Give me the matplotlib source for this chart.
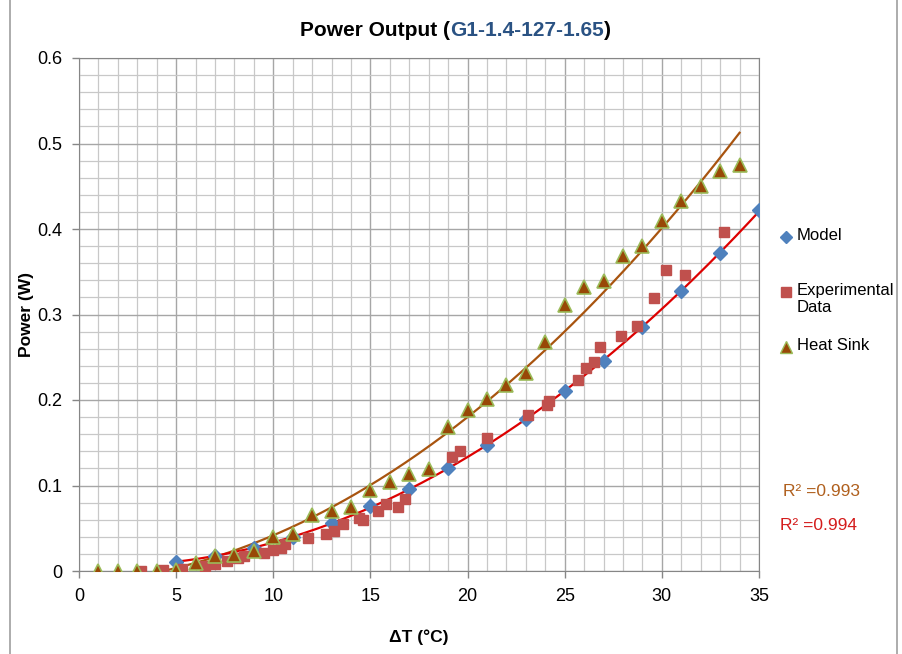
import numpy as np
import matplotlib.pyplot as plt
from matplotlib.lines import Line2D
from matplotlib.patches import FancyBboxPatch
from matplotlib.ticker import MultipleLocator

plt.rcParams['font.family'] = ['Liberation Sans', 'DejaVu Sans']

# Model (blue diamonds)
model_x = [5, 7, 9, 11, 13, 15, 17, 19, 21, 23, 25, 27, 29, 31, 33, 35]
model_y = [0.010, 0.018, 0.027, 0.040, 0.056, 0.076, 0.096, 0.120, 0.147, 0.178,
           0.210, 0.246, 0.285, 0.328, 0.372, 0.422]

# Experimental data (red squares)
exp_x = [3.2, 4.3, 5.3, 6.5, 7.0, 7.6, 8.2, 8.5, 9.5, 10.0, 10.4, 10.6, 11.8, 12.7,
         13.1, 13.6, 14.4, 14.6, 15.4, 15.8, 16.4, 16.8, 19.2, 19.6, 21.0, 23.1,
         24.1, 24.2, 25.7, 26.1, 26.5, 26.8, 27.9, 28.7, 29.6, 30.2, 31.2, 33.2]
exp_y = [0.000, 0.001, 0.002, 0.006, 0.008, 0.012, 0.015, 0.018, 0.021, 0.024,
         0.027, 0.031, 0.039, 0.043, 0.047, 0.055, 0.062, 0.060, 0.070, 0.078,
         0.075, 0.084, 0.133, 0.140, 0.155, 0.182, 0.194, 0.199, 0.223, 0.237,
         0.245, 0.262, 0.275, 0.286, 0.319, 0.352, 0.346, 0.397]

# Heat sink (triangles)
hs_x = list(range(1, 35))
hs_y = [0.000, 0.000, 0.000, 0.000, 0.001, 0.009, 0.017, 0.019, 0.023, 0.040,
        0.043, 0.065, 0.070, 0.075, 0.095, 0.104, 0.114, 0.119, 0.169, 0.188,
        0.201, 0.218, 0.231, 0.268, 0.311, 0.332, 0.339, 0.368, 0.380, 0.409,
        0.433, 0.450, 0.468, 0.475]

legend_labels = ['Model', 'Experimental\nData', 'Heat Sink']
r2_labels = ['R² =0.993', 'R² =0.994']

W, H = 903, 654
fig = plt.figure(figsize=(W / 100, H / 100), dpi=100)
ax = fig.add_axes([79 / W, 83 / H, 680 / W, 513 / H])

def fx(px):
    return px / W

def fy(py):
    return 1 - py / H

# Rahmen um das Diagramm
fig.add_artist(FancyBboxPatch((fx(10), -0.05), fx(887), 1.1,
                              boxstyle='round,pad=0,rounding_size=0.01',
                              transform=fig.transFigure, fill=False,
                              edgecolor='#8c8c8c', linewidth=1.0))

# Trendlinien (Polynom 2. Ordnung)
c_hs = np.polyfit(hs_x, hs_y, 2)
xs = np.linspace(min(hs_x), max(hs_x), 300)
ax.plot(xs, np.polyval(c_hs, xs), color='#A8540F', lw=1.6, zorder=3)

c_m = np.polyfit(model_x, model_y, 2)
xs2 = np.linspace(min(model_x), max(model_x), 300)
ax.plot(xs2, np.polyval(c_m, xs2), color='#DD0000', lw=1.6, zorder=3)

ax.plot(model_x, model_y, 'D', color='#4F81BD', ms=7, mec='#4F81BD', zorder=4)
ax.plot(exp_x, exp_y, 's', color='#C0504D', ms=7.5, mec='#C0504D', zorder=5)
ax.plot(hs_x, hs_y, '^', color='#984807', ms=9.5, mec='#9BBB59', mew=1.2, zorder=6)

ax.set_xlim(0, 35)
ax.set_ylim(0, 0.6)
ax.xaxis.set_major_locator(MultipleLocator(5))
ax.xaxis.set_minor_locator(MultipleLocator(1))
ax.yaxis.set_minor_locator(MultipleLocator(0.02))
ax.set_yticks(np.arange(0, 0.61, 0.1))
ax.set_yticklabels(['0', '0.1', '0.2', '0.3', '0.4', '0.5', '0.6'])
ax.grid(which='major', color='#A6A6A6', lw=1.0)
ax.grid(which='minor', color='#C8C8C8', lw=0.9)
ax.set_axisbelow(True)
ax.tick_params(which='major', labelsize=13, color='#868686', length=5, width=1)
ax.tick_params(which='minor', length=0)
ax.tick_params(axis='x', pad=7)
ax.tick_params(axis='y', pad=7)
for s in ax.spines.values():
    s.set_color('#868686')

ax.set_ylabel('Power (W)', fontsize=12.5, fontweight='bold', labelpad=2)
ax.set_xlabel('ΔT (°C)', fontsize=12.5, fontweight='bold', labelpad=18)

# Titel mit blauem Teil
ty = fy(31)
t1 = fig.text(fx(300), ty, 'Power Output (', fontsize=15,
              fontweight='bold', va='center', ha='left')
fig.canvas.draw()
bb = t1.get_window_extent()
t2 = fig.text(bb.x1 / W, ty, 'G1-1.4-127-1.65', fontsize=15,
              fontweight='bold', color='#2A5283', va='center', ha='left')
fig.canvas.draw()
bb2 = t2.get_window_extent()
fig.text(bb2.x1 / W, ty, ')', fontsize=15, fontweight='bold',
         va='center', ha='left')

# Legende (manuell)
leg_y = [237, 292, 347]
leg_markers = [dict(marker='D', color='#4F81BD', ms=6),
               dict(marker='s', color='#C0504D', ms=6.5),
               dict(marker='^', color='#984807', mec='#9BBB59', ms=8)]
for lbl, py, mk in zip(legend_labels, leg_y, leg_markers):
    fig.add_artist(Line2D([fx(786)], [fy(py)], ls='none',
                          transform=fig.transFigure, **mk))
    fig.text(fx(797), fy(py - 9), lbl, fontsize=12, va='top', ha='left',
             linespacing=1.2)

fig.text(fx(783), fy(491), r2_labels[0], color='#B0601E', fontsize=12.5,
         va='center')
fig.text(fx(780), fy(525), r2_labels[1], color='#D41C1C', fontsize=12.5,
         va='center')

fig.savefig('out.png', dpi=100)
